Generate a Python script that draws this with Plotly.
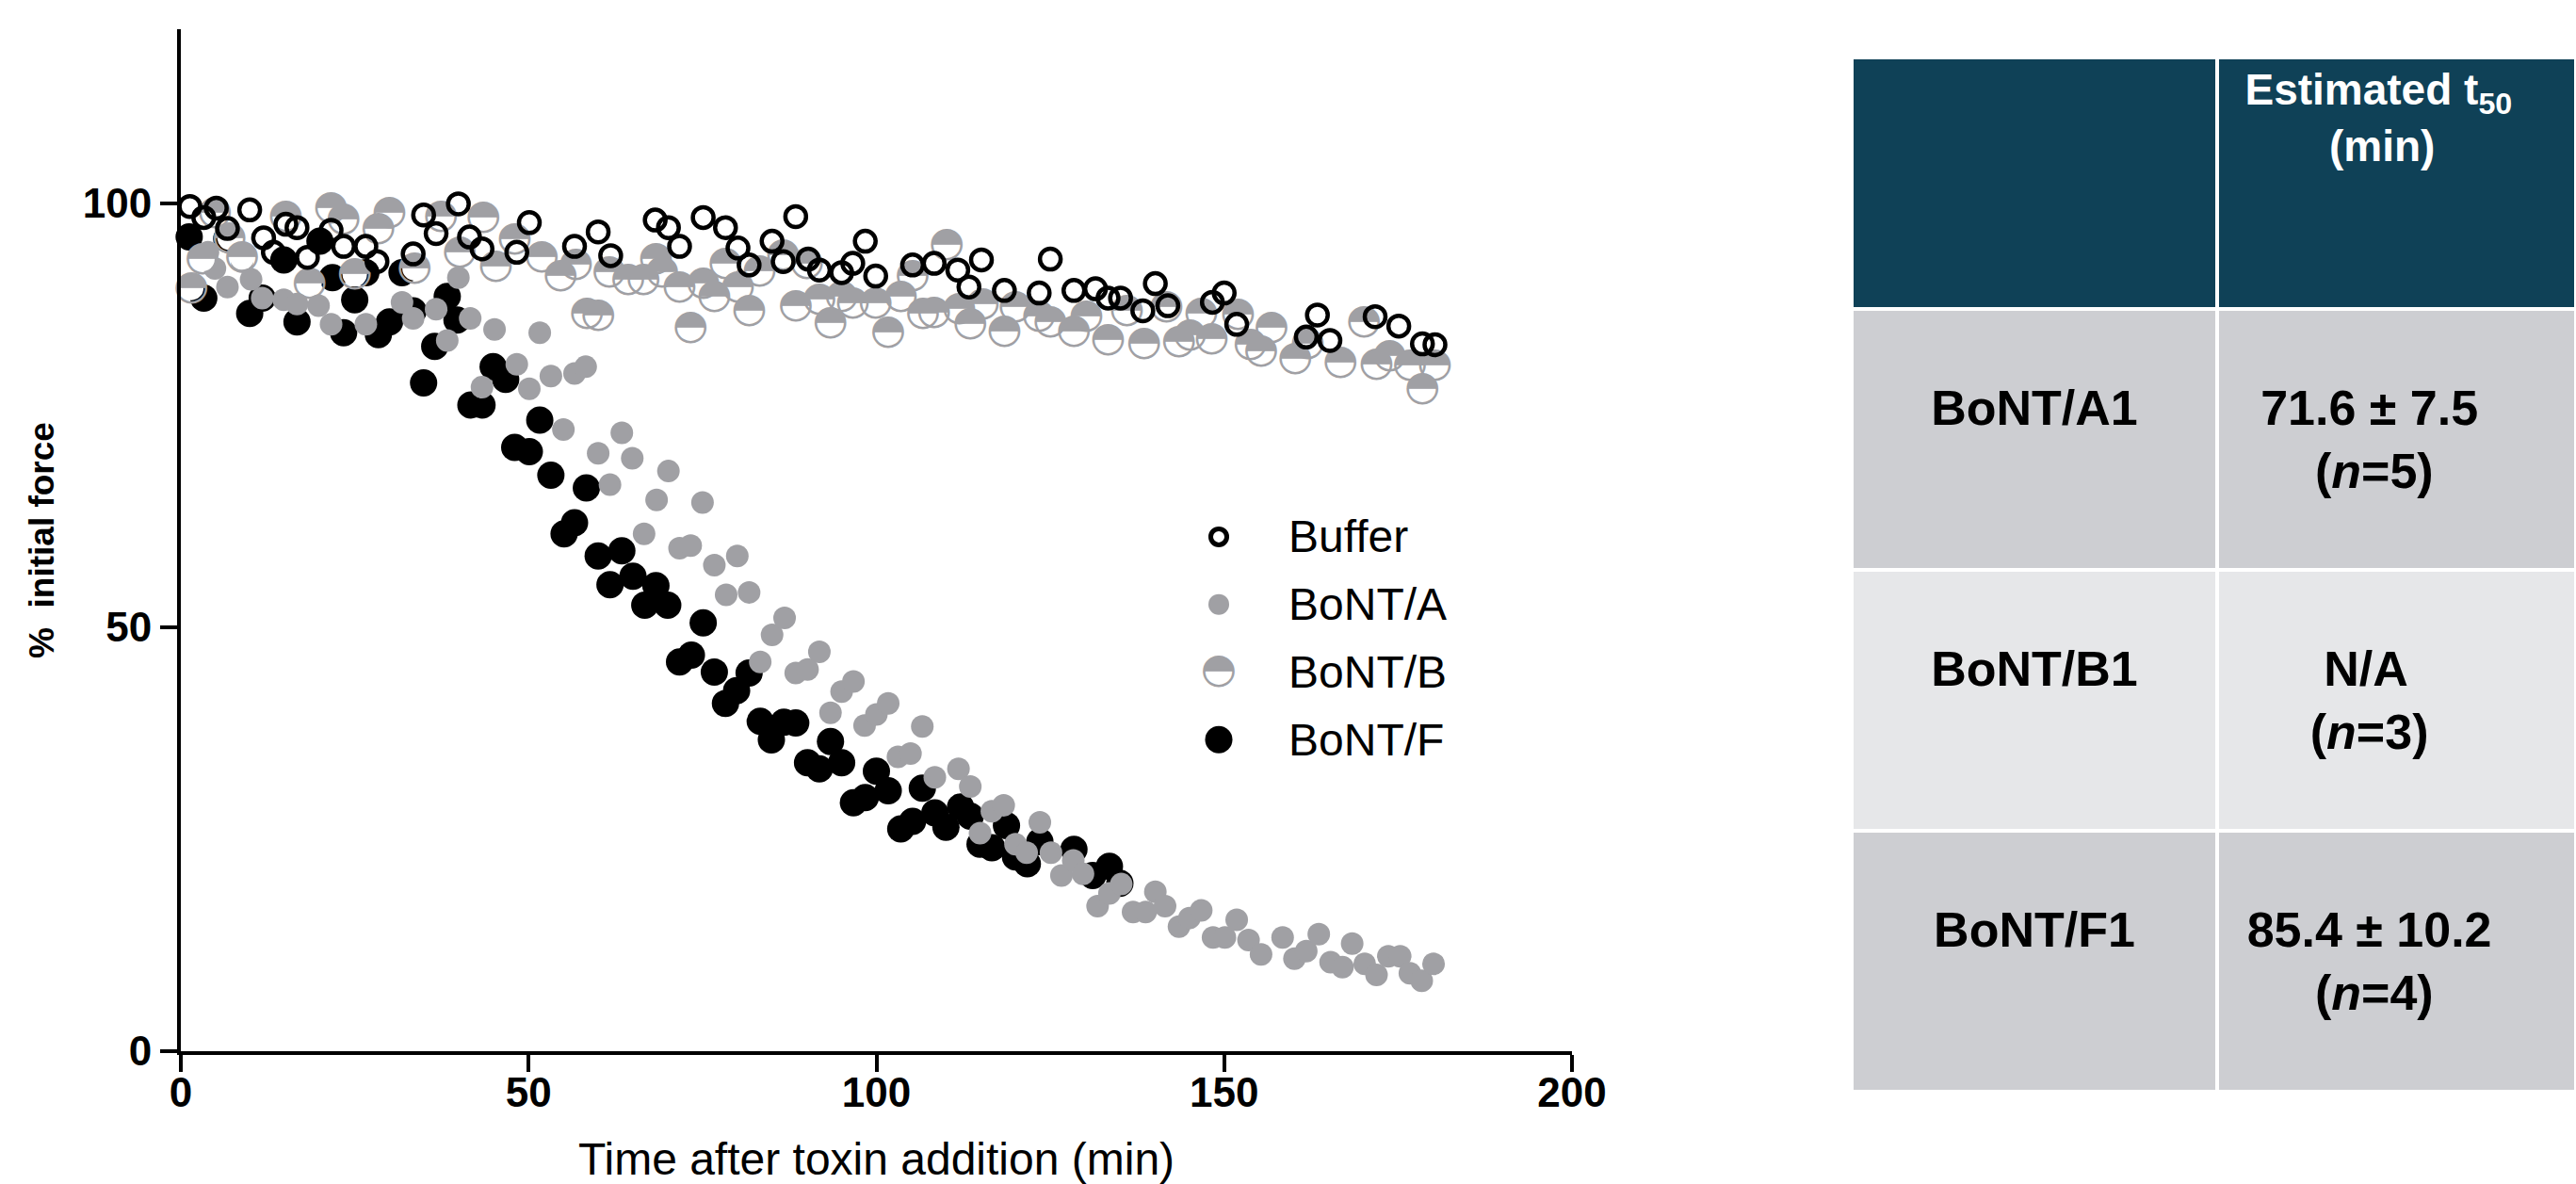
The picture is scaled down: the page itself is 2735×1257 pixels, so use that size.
import plotly.graph_objects as go

W, H = 2735, 1257
FONT = "Liberation Sans, Arial, sans-serif"
GREY = "#A0A0A4"

# ---------------- data ----------------
buffer_t = [1.3, 3.3, 5.1, 6.7, 9.9, 11.9, 13.3, 15.1, 16.7, 18.2, 21.6, 23.4, 26.6, 28.2, 33.4,
            34.9, 36.7, 39.9, 41.5, 43.3, 48.3, 50.1, 56.6, 60.0, 61.8, 68.2, 70.1, 71.7, 75.1, 78.3,
            80.1, 81.7, 85.0, 86.6, 88.4, 90.2, 91.8, 95.0, 96.6, 98.4, 99.9, 105.2, 108.3, 111.7, 113.3,
            115.1, 118.4, 123.4, 125.0, 128.4, 131.5, 133.3, 135.1, 138.3, 140.1, 141.9, 148.3, 150.0, 151.8, 161.8,
            163.4, 165.2, 171.7, 175.1, 178.5, 180.3]
buffer_v = [99.6, 98.3, 99.4, 97.0, 99.2, 95.9, 94.2, 97.5, 97.1, 93.6, 96.8, 94.9, 94.9, 93.1, 94.0,
            98.6, 96.4, 99.9, 96.0, 94.6, 94.2, 97.7, 94.9, 96.6, 93.8, 98.0, 97.1, 94.9, 98.3, 97.1,
            94.7, 92.7, 95.5, 93.1, 98.4, 93.4, 92.1, 91.8, 92.9, 95.5, 91.4, 92.7, 92.9, 92.1, 90.1,
            93.3, 89.7, 89.4, 93.4, 89.7, 89.9, 88.8, 88.8, 87.3, 90.5, 87.9, 88.3, 89.4, 85.7, 84.2,
            86.8, 83.8, 86.6, 85.5, 83.4, 83.3]

bont_a_t = [3.9, 4.9, 6.7, 8.8, 10.1, 11.7, 14.8, 16.7, 19.8, 21.6, 26.6, 31.8, 33.4, 36.7, 38.3,
            39.9, 41.6, 43.3, 45.1, 48.3, 50.1, 51.6, 53.2, 55.0, 56.6, 58.2, 60.0, 61.7, 63.4, 64.9,
            66.6, 68.4, 70.1, 71.7, 73.3, 75.0, 76.7, 78.4, 80.0, 81.7, 83.3, 85.0, 86.8, 88.4, 90.1,
            91.8, 93.4, 95.0, 96.7, 98.3, 100.0, 101.7, 103.1, 104.9, 106.6, 108.4, 111.8, 113.5, 114.9, 116.6,
            118.3, 120.0, 121.6, 123.5, 125.1, 126.6, 128.3, 129.7, 131.8, 133.5, 135.2, 136.9, 138.7, 140.1, 141.5,
            143.5, 145.0, 146.7, 148.4, 150.1, 151.8, 153.5, 155.3, 158.4, 160.1, 161.8, 163.6, 165.3, 167.0, 168.4,
            170.2, 171.9, 173.6, 175.3, 176.7, 178.4, 180.1]
bont_a_v = [94.2, 92.3, 90.1, 93.1, 91.0, 88.8, 88.6, 88.1, 87.9, 85.7, 85.7, 88.3, 86.4, 87.5, 83.8,
            91.2, 86.4, 78.3, 85.1, 81.0, 78.1, 84.7, 79.6, 73.3, 79.9, 80.7, 70.5, 66.8, 72.9, 69.9,
            61.0, 65.0, 68.4, 59.3, 59.6, 64.7, 57.3, 53.8, 58.4, 54.1, 45.9, 49.1, 51.1, 44.6, 45.0,
            47.1, 39.9, 42.4, 43.6, 38.4, 39.7, 41.0, 34.7, 35.1, 38.3, 32.3, 33.3, 31.2, 25.7, 28.3,
            29.0, 24.4, 23.4, 27.0, 23.4, 20.7, 22.5, 20.9, 17.1, 18.6, 19.7, 16.4, 16.4, 18.8, 17.1,
            14.7, 15.7, 16.6, 13.4, 13.4, 15.5, 13.1, 11.4, 13.4, 10.9, 11.8, 13.8, 10.5, 9.9, 12.7,
            10.3, 9.0, 11.2, 11.2, 9.2, 8.3, 10.3]

bont_b_t = [1.5, 3.1, 4.9, 7.0, 8.8, 15.1, 18.5, 21.6, 23.4, 25.0, 28.4, 30.0, 33.6, 37.4, 40.1,
            43.5, 45.3, 48.0, 51.9, 54.6, 56.8, 58.4, 60.0, 61.6, 64.3, 66.5, 68.3, 69.2, 71.7, 73.3,
            75.1, 76.7, 78.3, 80.1, 81.7, 83.2, 86.6, 88.4, 90.0, 91.8, 93.4, 95.0, 96.6, 99.9, 101.7,
            103.5, 105.2, 106.7, 108.3, 110.1, 111.9, 113.5, 115.3, 118.4, 120.0, 123.4, 125.0, 128.4, 130.2, 133.3,
            136.0, 138.5, 141.7, 143.5, 145.1, 146.7, 148.2, 152.0, 153.8, 155.3, 156.8, 160.2, 162.0, 166.7, 170.1,
            171.9, 173.8, 176.7, 178.5, 180.3]
bont_b_v = [90.0, 93.4, 98.8, 95.9, 93.6, 98.4, 90.5, 99.4, 98.1, 91.6, 97.0, 98.8, 92.3, 98.4, 94.2,
            98.3, 92.5, 95.7, 93.6, 91.4, 92.7, 87.0, 86.7, 91.8, 91.0, 91.0, 93.4, 91.8, 90.1, 85.3,
            90.5, 89.0, 92.9, 90.1, 87.3, 92.0, 93.8, 87.9, 92.9, 88.6, 85.9, 89.0, 88.2, 88.2, 84.7,
            89.0, 91.4, 87.0, 87.1, 95.1, 87.5, 85.7, 88.1, 84.9, 87.7, 86.6, 86.0, 84.9, 86.6, 83.8,
            87.3, 83.4, 87.7, 83.6, 84.4, 87.0, 84.0, 86.8, 83.3, 82.5, 85.3, 81.6, 83.4, 81.2, 86.0,
            81.0, 82.0, 80.9, 78.1, 80.9]

bont_f_t = [1.2, 3.3, 6.6, 9.9, 11.7, 14.8, 16.7, 20.0, 21.8, 23.4, 25.0, 26.6, 28.4, 30.0, 31.8,
            33.4, 34.9, 36.5, 38.3, 39.7, 41.7, 43.3, 44.9, 46.7, 48.0, 50.1, 51.6, 53.2, 55.1, 56.6,
            58.3, 60.0, 61.7, 63.4, 65.0, 66.7, 68.3, 70.0, 71.7, 73.4, 75.1, 76.7, 78.3, 79.9, 81.7,
            83.3, 84.9, 86.7, 88.4, 90.1, 91.8, 93.4, 95.0, 96.7, 98.4, 100.0, 101.7, 103.5, 105.2, 106.6,
            108.4, 110.0, 112.1, 113.5, 114.9, 116.6, 118.7, 120.0, 121.7, 123.5, 128.4, 131.1, 133.5, 135.0]
bont_f_v = [96.0, 88.8, 95.8, 87.0, 88.8, 93.3, 86.0, 95.5, 91.2, 84.7, 88.6, 91.8, 84.5, 86.0, 91.8,
            87.3, 78.8, 83.1, 89.0, 86.2, 76.2, 76.2, 80.7, 79.2, 71.2, 70.7, 74.4, 67.9, 61.0, 62.3,
            66.4, 58.4, 55.0, 59.0, 56.0, 52.6, 54.9, 52.6, 45.9, 46.7, 50.5, 44.7, 41.0, 42.5, 44.6,
            38.9, 36.7, 38.8, 38.7, 34.0, 33.3, 36.5, 34.0, 29.3, 29.9, 33.0, 30.7, 26.2, 27.1, 31.0,
            28.1, 26.4, 28.8, 27.7, 24.4, 24.0, 26.6, 22.9, 22.1, 24.7, 23.8, 20.7, 21.8, 19.8]

series_names = ["Buffer", "BoNT/A", "BoNT/B", "BoNT/F"]
x_ticks = [0, 50, 100, 150, 200]
y_ticks = [0, 50, 100]

table_toxins = ["BoNT/A1", "BoNT/B1", "BoNT/F1"]
table_t50 = ["71.6 ± 7.5", "N/A", "85.4 ± 10.2"]
table_n = [5, 3, 4]

# ---------------- styles ----------------
HALF = "\u25D3"  # circle with upper half filled
styles = {
    "Buffer": dict(symbol="circle-open", size=22, color="black", line=dict(width=4.5, color="black")),
    "BoNT/A": dict(symbol="circle", size=24, color=GREY, line=dict(width=0)),
    "BoNT/F": dict(symbol="circle", size=29, color="black", line=dict(width=0)),
}
key_styles = {
    "Buffer": dict(symbol="circle-open", size=17, color="black", line=dict(width=5, color="black")),
    "BoNT/A": dict(symbol="circle", size=22, color=GREY, line=dict(width=0)),
    "BoNT/F": dict(symbol="circle", size=29, color="black", line=dict(width=0)),
}
HALF_FONT = dict(family="DejaVu Sans", size=44, color=GREY)

fig = go.Figure()


def add_series(name, t, v, xa="x", ya="y", key=False):
    if name == "BoNT/B":
        fig.add_trace(go.Scatter(x=t, y=v, mode="markers", xaxis=xa, yaxis=ya, name=name,
                                 marker=dict(symbol="circle", size=26, color="white", line=dict(width=0)),
                                 showlegend=False, hoverinfo="skip", cliponaxis=False))
        fig.add_trace(go.Scatter(x=t, y=v, mode="text", text=[HALF] * len(t), xaxis=xa, yaxis=ya,
                                 name=name, textposition="middle center", textfont=HALF_FONT,
                                 showlegend=False, cliponaxis=False))
    else:
        st = key_styles[name] if key else styles[name]
        fig.add_trace(go.Scatter(x=t, y=v, mode="markers", xaxis=xa, yaxis=ya, name=name,
                                 marker=st, showlegend=False, cliponaxis=False))


# drawing order: F at the back, buffer on top
add_series("BoNT/F", bont_f_t, bont_f_v)
add_series("BoNT/A", bont_a_t, bont_a_v)
add_series("BoNT/B", bont_b_t, bont_b_v)
add_series("Buffer", buffer_t, buffer_v)

# ---------------- key (legend) on its own small axes ----------------
for i, name in enumerate(series_names):
    add_series(name, [0], [i], xa="x2", ya="y2", key=True)
    fig.add_annotation(x=1, y=i, xref="x2", yref="y2", text=name, showarrow=False,
                       xanchor="left", yanchor="middle", font=dict(family=FONT, size=48, color="black"))

# ---------------- table ----------------
NB = "\u00a0"
HEADER_COL = "#0F4157"
ROW_COLS = ["#CDCED2", "#E6E7E9", "#CDCED2"]


def centre_pad(a, b):
    # rough pad (in no-break spaces) so that two stacked lines look centred
    w = {"71.6 ± 7.5": 4.48, "N/A": 1.72, "85.4 ± 10.2": 5.03}
    la, lb = w.get(a, 3.0), 2.42
    if la >= lb:
        return "", NB * int(round((la - lb) / 2 / 0.278))
    return NB * int(round((lb - la) / 2 / 0.278)), ""


TRAIL = NB * 4
col1 = []
col2 = []
for s, v, n in zip(table_toxins, table_t50, table_n):
    p1, p2 = centre_pad(v, "(n=%d)" % n)
    col1.append(NB + "<br><b>%s</b>" % s)
    col2.append(NB + "<br>%s<b>%s</b>%s<br>%s<b>(<i>n</i>=%d)</b>%s" % (p1, v, TRAIL, p2, n, TRAIL))

header_vals = ["", "<b>Estimated t<sub>50</sub></b>" + NB * 3 + "<br>" + NB * 7 + "<b>(min)</b>"]
fig.add_trace(go.Table(
    domain=dict(x=[1966 / W, 1.0], y=[1 - 1166 / H, 1 - 61 / H]),
    columnwidth=[388, 381],
    header=dict(values=header_vals,
                fill_color=HEADER_COL, line=dict(color="white", width=4),
                font=dict(family=FONT, size=46, color="white"), height=267, align="center"),
    cells=dict(values=[col1, col2], fill_color=[ROW_COLS, ROW_COLS],
               line=dict(color="white", width=4),
               font=dict(family=FONT, size=52, color="black"), height=277, align="center"),
))

# ---------------- layout ----------------
axis_common = dict(showgrid=False, zeroline=False, showline=True, linecolor="black", linewidth=4,
                   ticks="outside", ticklen=18, tickwidth=4, tickcolor="black", automargin=False,
                   tickfont=dict(family=FONT, size=44, color="black", weight="bold"))
fig.update_layout(
    width=W, height=H, autosize=False,
    margin=dict(l=0, r=0, t=0, b=0, pad=0, autoexpand=False),
    paper_bgcolor="white", plot_bgcolor="white",
    showlegend=False,
    hovermode=False,
    xaxis=dict(domain=[192 / W, 1669 / W], range=[0, 200], tickvals=x_ticks, anchor="y",
               ticklabelstandoff=-16,
               title=dict(text="Time after toxin addition (min)", standoff=52,
                          font=dict(family=FONT, size=48, color="black")),
               **axis_common),
    yaxis=dict(domain=[1 - 1116 / H, 1 - 31 / H], range=[0, 120.5], tickvals=y_ticks, anchor="x",
               title=dict(text="<b>%" + NB + " initial force</b>", standoff=20,
                          font=dict(family=FONT, size=37, color="black")),
               **axis_common),
    xaxis2=dict(domain=[1294 / W, 1366 / W], range=[0, 1], visible=False, anchor="y2", fixedrange=True),
    yaxis2=dict(domain=[1 - 821 / H, 1 - 534 / H], range=[3.5, -0.5], visible=False, anchor="x2",
                fixedrange=True),
)

fig.write_html("out.html", config={"displayModeBar": False, "responsive": False},
               default_width="2735px", default_height="1257px",
               post_script="document.body.style.margin='0';document.body.style.padding='0';"
                           "document.body.style.overflow='hidden';")
